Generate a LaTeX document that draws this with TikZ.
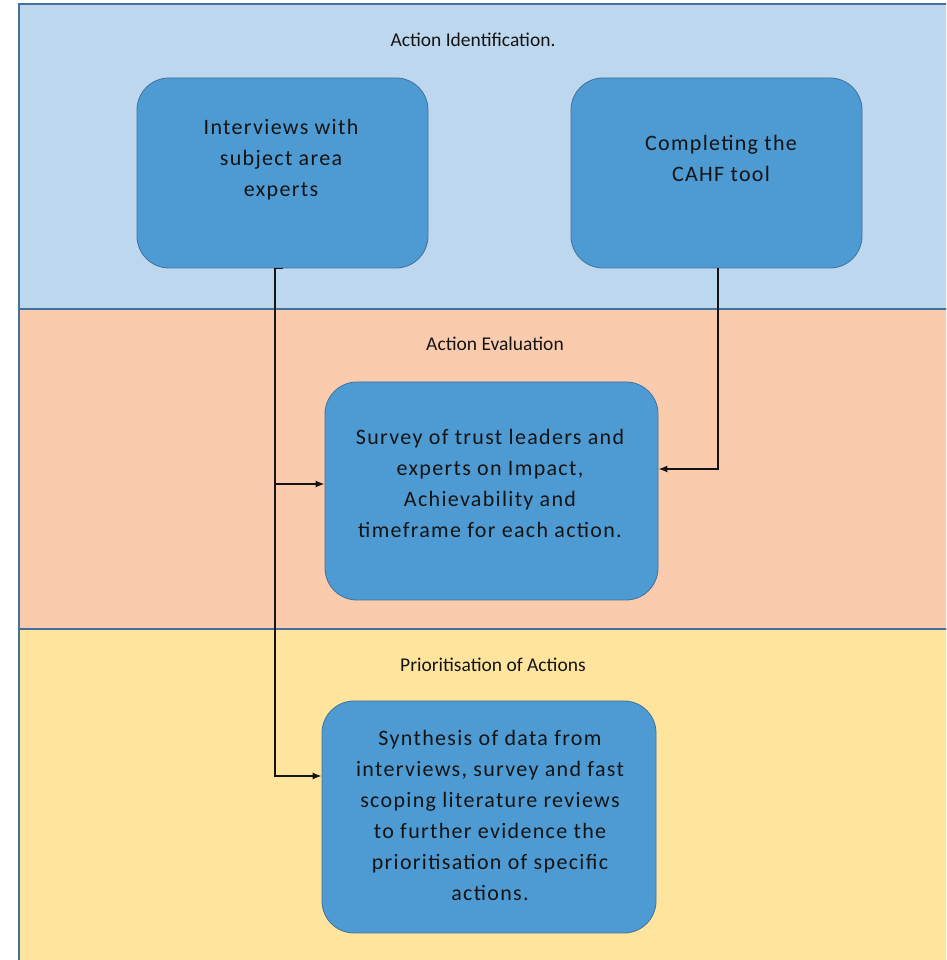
\documentclass[tikz,border=0pt]{standalone}
\usepackage{fontspec}
\setmainfont{Carlito}
\newfontfamily\boxfont[LetterSpace=6]{Carlito}
\usetikzlibrary{arrows.meta}
\definecolor{laneA}{RGB}{189,215,238}
\definecolor{laneB}{RGB}{251,203,174}
\definecolor{laneC}{RGB}{254,228,156}
\definecolor{boxfill}{RGB}{78,155,211}
\definecolor{edgeblue}{RGB}{65,113,156}
\definecolor{ink}{RGB}{20,20,20}
\begin{document}
\begin{tikzpicture}[x=1pt,y=1pt,
  lane/.style={draw=edgeblue, line width=2pt},
  stepbox/.style={draw=edgeblue, fill=boxfill, line width=0.8pt, rounded corners=32pt, inner sep=0pt},
  boxtext/.style={text=ink, align=center, font=\boxfont\fontsize{22}{31}\selectfont, inner sep=0pt},
  lanetext/.style={text=ink, font=\fontsize{19.5}{23}\selectfont, inner sep=0pt},
  conn/.style={draw=ink, line width=1.5pt, -{Latex[length=9pt,width=7pt]}},
  plain/.style={draw=ink, line width=1.5pt}
]
\useasboundingbox (0,0) rectangle (946,960);
\clip (0,0) rectangle (946,960);
% lanes
\path[lane, fill=laneA] (19,956) rectangle (960,651);
\path[lane, fill=laneB] (19,651) rectangle (960,331);
\path[lane, fill=laneC] (19,331) rectangle (960,-20);
\node[lanetext] (l1) at (473,920) {Action Identification.};
\node[lanetext] (l2) at (495,616) {Action Evaluation};
\node[lanetext] (l3) at (493,295) {Prioritisation of Actions};
% boxes
\node[stepbox, minimum width=291pt, minimum height=190pt] (b1) at (282.5,787) {};
\node[stepbox, minimum width=291pt, minimum height=190pt] (b2) at (716.5,787) {};
\node[stepbox, minimum width=333pt, minimum height=218pt] (b3) at (491.5,469) {};
\node[stepbox, minimum width=334pt, minimum height=232pt] (b4) at (489,143) {};
\node[boxtext] (t1) at (281,800) {Interviews with\\subject area\\experts};
\node[boxtext] (t2) at (721,802) {Completing the\\CAHF tool};
\node[boxtext] (t3) at (490,477) {Survey of trust leaders and\\experts on Impact,\\Achievability and\\timeframe for each action.};
\node[boxtext] (t4) at (490,145) {Synthesis of data from\\interviews, survey and fast\\scoping literature reviews\\to further evidence the\\prioritisation of specific\\actions.};
% connectors
\coordinate (s1) at ([xshift=-7.5pt]b1.south);
\coordinate (s2) at ([xshift=1.5pt]b2.south);
\coordinate (j1) at (275,476);
\draw[conn] (b1.south) -- (s1) |- ([yshift=41pt]b4.west);
\draw[conn] (j1) -- ([yshift=7pt]b3.west);
\draw[conn] (s2) |- ([yshift=22pt]b3.east);
\end{tikzpicture}
\end{document}
